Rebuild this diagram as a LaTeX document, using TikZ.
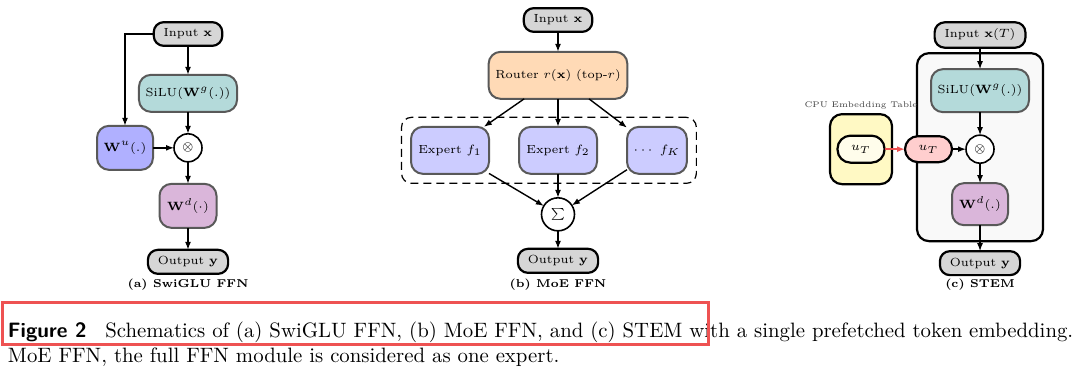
\documentclass[tikz,border=0pt]{standalone}
\usepackage{amsmath,amssymb,bm}
\usepackage{tikz}
\usetikzlibrary{arrows.meta,calc,positioning,fit,backgrounds}
\definecolor{GateTeal}{RGB}{180,218,218}
\definecolor{UpBlue}{RGB}{176,176,255}
\definecolor{DownViolet}{RGB}{218,182,218}
\definecolor{RouterPeach}{RGB}{255,218,182}
\definecolor{ExpertBlue}{RGB}{204,204,255}
\definecolor{PillGray}{RGB}{214,214,214}
\definecolor{TokenPink}{RGB}{255,206,206}
\definecolor{TableYellow}{RGB}{255,249,196}
\definecolor{TokenCream}{RGB}{255,253,235}
\definecolor{StemGray}{RGB}{249,249,249}
\definecolor{MarkRed}{RGB}{238,82,82}
\newcommand{\nodefont}{\fontsize{5.9}{7}\selectfont}
\newcommand{\subfont}{\fontsize{5.7}{7}\selectfont\bfseries}

\begin{document}
\begin{tikzpicture}[
    x=0.5pt,y=-0.5pt,
    >={Latex[length=4pt,width=3pt]},node distance=11pt,
    every node/.style={outer sep=0pt},
    pill/.style={
      draw,line width=1.1pt,fill=PillGray,rounded corners=5pt,
      minimum height=10.5pt,inner xsep=5pt,font=\nodefont
    },
    blk/.style={
      draw=black!65,line width=1pt,rounded corners=6pt,
      align=center,font=\nodefont
    },
    op/.style={
      circle,draw,line width=0.8pt,fill=white,inner sep=0pt,
      minimum size=14pt,font=\nodefont
    },
    arr/.style={->,line width=0.7pt},
    sub/.style={font=\subfont}
  ]
  \path[use as bounding box,clip] (0,0) rectangle (1080,379);

  % (a) SwiGLU FFN
  \node[pill] (ina) at (188,34) {Input $\mathbf{x}$};
  \node[blk,fill=GateTeal,minimum width=48.5pt,minimum height=18.5pt,
    below=14.5pt of ina] (silua) {SiLU$(\mathbf{W}^g(.))$};
  \node[op,below=of silua] (mula) {$\otimes$};
  \node[blk,fill=UpBlue,minimum width=28pt,minimum height=22pt,
    left=10.5pt of mula] (upa) {$\mathbf{W}^u(.)$};
  \node[blk,fill=DownViolet,minimum width=28.5pt,minimum height=22pt,
    below=of mula] (downa) {$\mathbf{W}^d(\cdot)$};
  \node[pill,below=of downa] (outa) {Output $\mathbf{y}$};
  \node[sub] (capa) at (188,285) {(a) SwiGLU FFN};
  \draw[arr] (ina) -- (silua);
  \draw[arr] (ina.west) -| (upa.north);
  \draw[arr] (silua) -- (mula);
  \draw[arr] (upa) -- (mula);
  \draw[arr] (mula) -- (downa);
  \draw[arr] (downa) -- (outa);

  % (b) MoE FFN
  \node[pill] (inb) at (558,20) {Input $\mathbf{x}$};
  \node[blk,fill=RouterPeach,minimum width=68.5pt,minimum height=23.5pt,
    below=10pt of inb] (router) {Router $r(\mathbf{x})$ (top-$r$)};
  \node[blk,fill=ExpertBlue,minimum width=39pt,minimum height=23.5pt,
    below=14pt of router] (exp2) {Expert $f_2$};
  \node[blk,fill=ExpertBlue,minimum width=39pt,minimum height=23.5pt,
    left=15pt of exp2] (exp1) {Expert $f_1$};
  \node[blk,fill=ExpertBlue,minimum width=29.5pt,minimum height=23.5pt,
    right=15pt of exp2] (expk) {$\cdots\ f_K$};
  \node[draw,line width=0.6pt,dash pattern=on 4pt off 2.5pt,
    rounded corners=5pt,inner sep=4.75pt,fit=(exp1)(expk)] (pool) {};
  \node[op,minimum size=16.5pt,below=12pt of exp2] (sumb) {$\sum$};
  \node[pill,below=9pt of sumb] (outb) {Output $\mathbf{y}$};
  \node[sub] (capb) at (558,285) {(b) MoE FFN};
  \draw[arr] (inb) -- (router);
  \foreach \e in {exp1,exp2,expk}{
    \draw[arr] (router) -- (\e);
    \draw[arr] (\e) -- (sumb);
  }
  \draw[arr] (sumb) -- (outb);

  % (c) STEM
  \node[pill] (inc) at (980,35) {Input $\mathbf{x}(T)$};
  \node[blk,fill=GateTeal,minimum width=48.5pt,minimum height=21.5pt,
    below=10.75pt of inc] (siluc) {SiLU$(\mathbf{W}^g(.))$};
  \node[op,below=11.5pt of siluc] (mulc) {$\otimes$};
  \node[blk,fill=DownViolet,minimum width=28pt,minimum height=21pt,
    below=10pt of mulc] (downc) {$\mathbf{W}^d(.)$};
  \node[pill,below=13pt of downc] (outc) {Output $\mathbf{y}$};
  \node[sub] (capc) at (980,285) {(c) STEM};
  \begin{scope}[on background layer]
    \node[draw,line width=1.1pt,fill=StemGray,rounded corners=6pt,
      inner xsep=7pt,inner ysep=8pt,fit=(siluc)(downc)] (stem) {};
  \end{scope}
  \node[pill,fill=TokenPink,rounded corners=6.5pt,minimum height=13pt,
    minimum width=23.5pt,left=7pt of mulc] (utok) {$u_T$};
  \node[draw,line width=1.1pt,fill=TableYellow,rounded corners=6pt,
    minimum width=31pt,minimum height=35pt,left=6.5pt of utok] (cpu) {};
  \node[pill,fill=TokenCream,rounded corners=6.5pt,minimum height=13.5pt,
    minimum width=23.5pt] (uin) at (cpu) {$u_T$};
  \node[font=\fontsize{4.1}{5}\selectfont,text=black!75,inner sep=0pt,
    above=2.5pt of cpu] (cpulab) {CPU Embedding Table};
  \draw[arr] (inc) -- (siluc);
  \draw[arr] (siluc) -- (mulc);
  \draw[arr] (utok) -- (mulc);
  \draw[arr] (mulc) -- (downc);
  \draw[arr] (downc) -- (outc);
  \draw[->,MarkRed,line width=0.8pt] (uin) -- (utok);

  % caption
  \node[anchor=west,align=left,inner sep=0pt,
    font=\fontsize{10.4}{12.5}\selectfont] (cap) at (8,344)
    {{\sffamily\bfseries Figure 2}\hspace{0.9em}Schematics of (a) SwiGLU FFN, (b) MoE FFN, and (c) STEM with a single prefetched token embedding. In\\
     MoE FFN, the full FFN module is considered as one expert.};
  \draw[MarkRed,line width=1.5pt] (2,302) rectangle (708,344);
\end{tikzpicture}
\end{document}
